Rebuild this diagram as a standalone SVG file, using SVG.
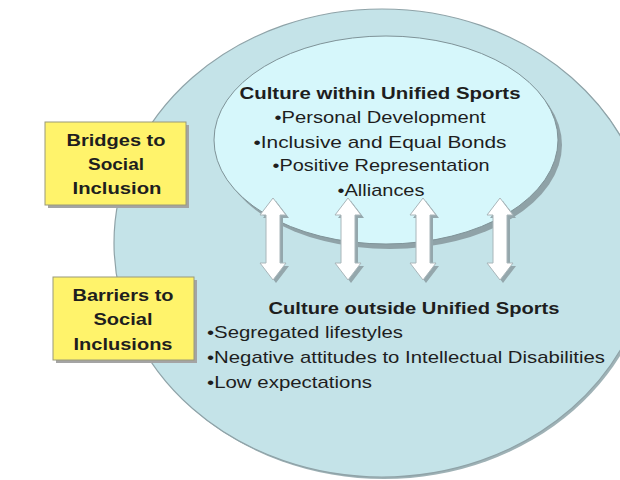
<svg xmlns="http://www.w3.org/2000/svg" width="620" height="480" viewBox="0 0 620 480">
<style>
text{font-family:"Liberation Sans",Arial,sans-serif;fill:#1e1e1e;font-size:17px}
.b{font-weight:bold}
.m{text-anchor:middle}
.box{fill:#fff36b;stroke:#9a9a7a;stroke-width:1}
.shd{fill:#a4a4a4}
.arrow{fill:#ffffff;stroke:#a9b6ba;stroke-width:1}
.arrowshd{fill:#94a7ac}
</style>
<defs>
<path id="dbl" d="M0,198 L13,215 L7,215 L7,263 L13,263 L0,280 L-13,263 L-7,263 L-7,215 L-13,215 Z"/>
</defs>
<rect width="620" height="480" fill="#ffffff"/>
<g id="culture-outside">
<ellipse cx="384" cy="245" rx="268" ry="234" fill="#9fb2b6"/>
<ellipse cx="382" cy="243" rx="268" ry="234" fill="#c4e3e8" stroke="#8fa3a8" stroke-width="1.2"/>
<text class="b m" x="414" y="314" textLength="291" lengthAdjust="spacingAndGlyphs">Culture outside Unified Sports</text>
<text x="207" y="338" textLength="196" lengthAdjust="spacingAndGlyphs">•Segregated lifestyles</text>
<text x="207" y="363" textLength="398" lengthAdjust="spacingAndGlyphs">•Negative attitudes to Intellectual Disabilities</text>
<text x="207" y="388" textLength="165" lengthAdjust="spacingAndGlyphs">•Low expectations</text>
</g>
<g id="culture-within">
<ellipse cx="390" cy="145" rx="172" ry="104" fill="#8fa2a7"/>
<ellipse cx="386" cy="140" rx="172" ry="104" fill="#d6f7fb" stroke="#7f9398" stroke-width="1"/>
<text class="b m" x="380" y="99" textLength="281" lengthAdjust="spacingAndGlyphs">Culture within Unified Sports</text>
<text class="m" x="380" y="123" textLength="211" lengthAdjust="spacingAndGlyphs">•Personal Development</text>
<text class="m" x="380" y="148" textLength="253" lengthAdjust="spacingAndGlyphs">•Inclusive and Equal Bonds</text>
<text class="m" x="381" y="171" textLength="217" lengthAdjust="spacingAndGlyphs">•Positive Representation</text>
<text class="m" x="381" y="196" textLength="87" lengthAdjust="spacingAndGlyphs">•Alliances</text>
</g>
<g id="connectors">
<use href="#dbl" class="arrowshd" x="276" y="3"/>
<use href="#dbl" class="arrow" x="273"/>
<use href="#dbl" class="arrowshd" x="351" y="3"/>
<use href="#dbl" class="arrow" x="348"/>
<use href="#dbl" class="arrowshd" x="426" y="3"/>
<use href="#dbl" class="arrow" x="423"/>
<use href="#dbl" class="arrowshd" x="503" y="3"/>
<use href="#dbl" class="arrow" x="500"/>
</g>
<g id="bridges">
<rect class="shd" x="48" y="125" width="141" height="83"/>
<rect class="box" x="45" y="122" width="141" height="83"/>
<text class="b m" x="116" y="146" textLength="99" lengthAdjust="spacingAndGlyphs">Bridges to</text>
<text class="b m" x="116" y="170" textLength="56" lengthAdjust="spacingAndGlyphs">Social</text>
<text class="b m" x="117" y="194" textLength="89" lengthAdjust="spacingAndGlyphs">Inclusion</text>
</g>
<g id="barriers">
<rect class="shd" x="56" y="280" width="141" height="83"/>
<rect class="box" x="53" y="277" width="141" height="83"/>
<text class="b m" x="123" y="301" textLength="101" lengthAdjust="spacingAndGlyphs">Barriers to</text>
<text class="b m" x="123" y="325" textLength="59" lengthAdjust="spacingAndGlyphs">Social</text>
<text class="b m" x="123" y="350" textLength="99" lengthAdjust="spacingAndGlyphs">Inclusions</text>
</g>
</svg>
